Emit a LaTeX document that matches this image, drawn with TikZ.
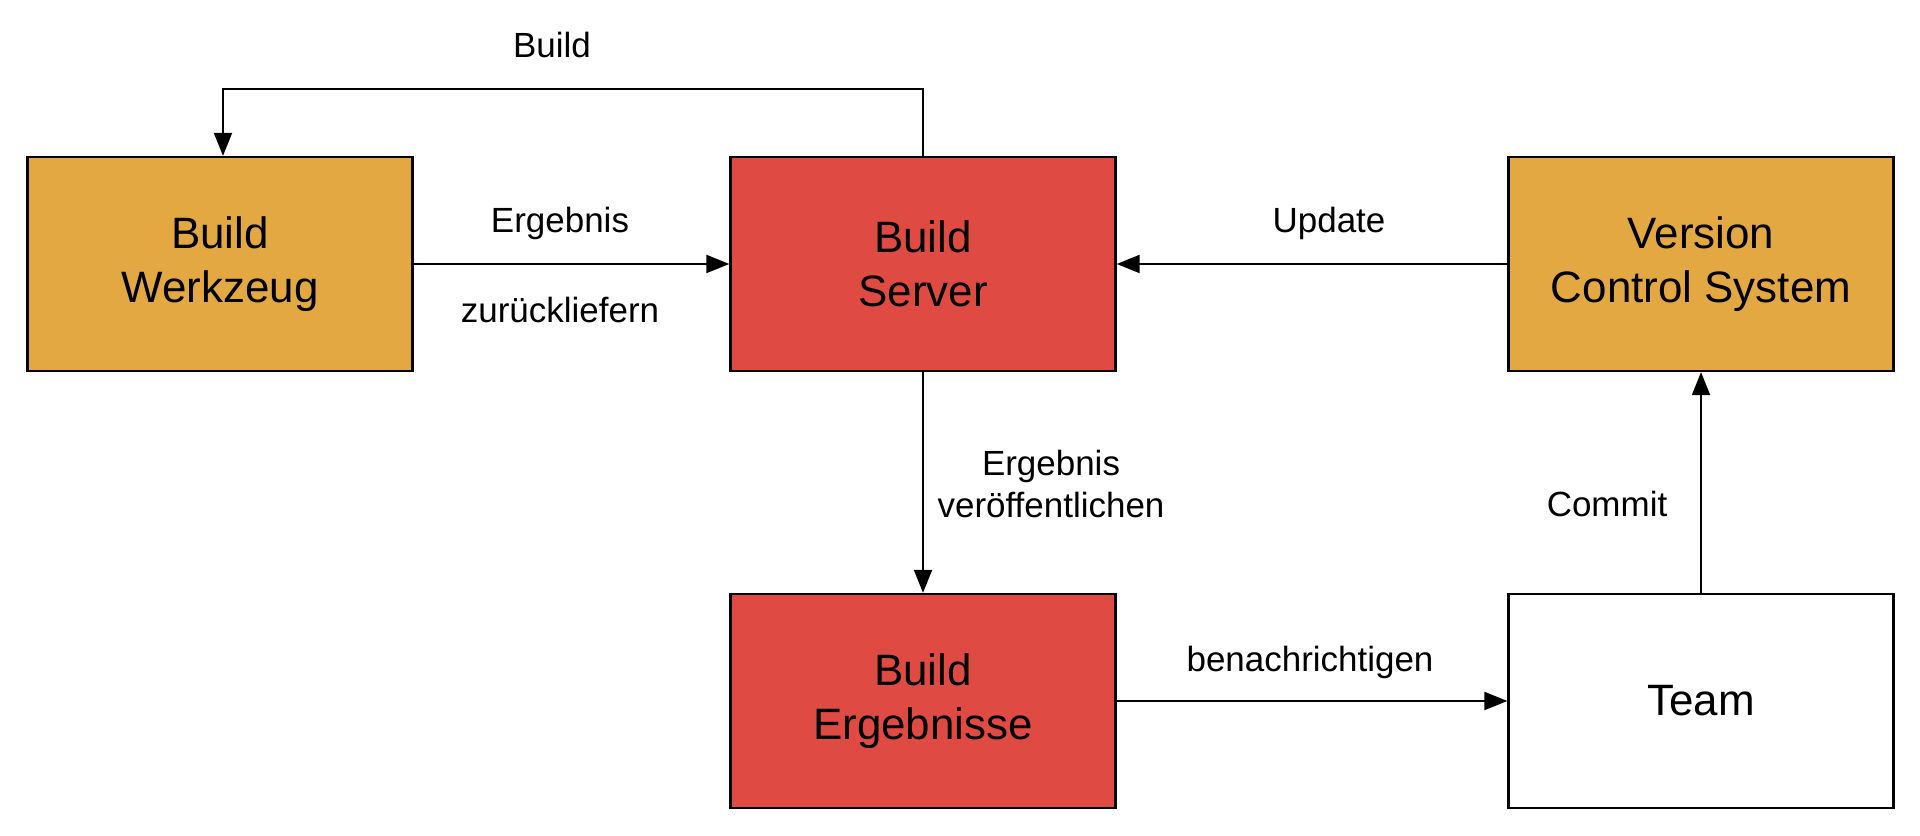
\documentclass[tikz,border=0pt]{standalone}
\usepackage{fontspec}
\setmainfont{Liberation Sans}
\definecolor{ToolOrange}{RGB}{228, 168, 67}
\definecolor{ServerRed}{RGB}{223, 74, 67}
\usetikzlibrary{arrows.meta, positioning}

\begin{document}
\begin{tikzpicture}[
    box/.style={draw, line width=1.3pt, minimum width=7.7cm, minimum height=4.28cm,
        align=center, font=\fontsize{25}{30.7}\selectfont},
    lbl/.style={align=center, font=\fontsize{19.9}{23.9}\selectfont},
    flow/.style={line width=1.1pt, -{Triangle[length=4.6mm, width=3.6mm]}}
]
        \useasboundingbox (0, 0) rectangle (38.4, 16.72);

        % Boxes
        \node[box, fill=ToolOrange] (werkzeug) at (4.40, 11.44) {Build\\Werkzeug};
        \node[box, fill=ServerRed] (server) at (18.46, 11.44) {Build\\Server};
        \node[box, fill=ToolOrange] (vcs) at (34.02, 11.44) {Version\\Control System};
        \node[box, fill=ServerRed] (ergebnisse) at (18.46, 2.70) {Build\\Ergebnisse};
        \node[box, fill=white] (team) at (34.02, 2.70) {Team};

        % Connectors
        \coordinate (buildtop) at (11.5, 14.94);
        \draw[flow] (server.north) |- (buildtop) -| ([xshift=0.06cm]werkzeug.north);
        \draw[flow] (werkzeug.east) -- (server.west);
        \draw[flow] (vcs.west) -- (server.east);
        \draw[flow] (server.south) -- (ergebnisse.north);
        \draw[flow] (ergebnisse.east) -- (team.west);
        \draw[flow] (team.north) -- (vcs.south);

        % Labels
        \node[lbl] (buildlbl) at (11.04, 15.82) {Build};
        \node[lbl] (ergebnislbl) at (11.2, 12.26) {Ergebnis};
        \node[lbl] (zuruecklbl) at (11.2, 10.52) {zurückliefern};
        \node[lbl] (updatelbl) at (26.58, 12.26) {Update};
        \node[lbl] (publishlbl) at (21.02, 7.04) {Ergebnis\\veröffentlichen};
        \node[lbl] (notifylbl) at (26.2, 3.48) {benachrichtigen};
        \node[lbl] (commitlbl) at (32.14, 6.64) {Commit};
    \end{tikzpicture}
\end{document}
